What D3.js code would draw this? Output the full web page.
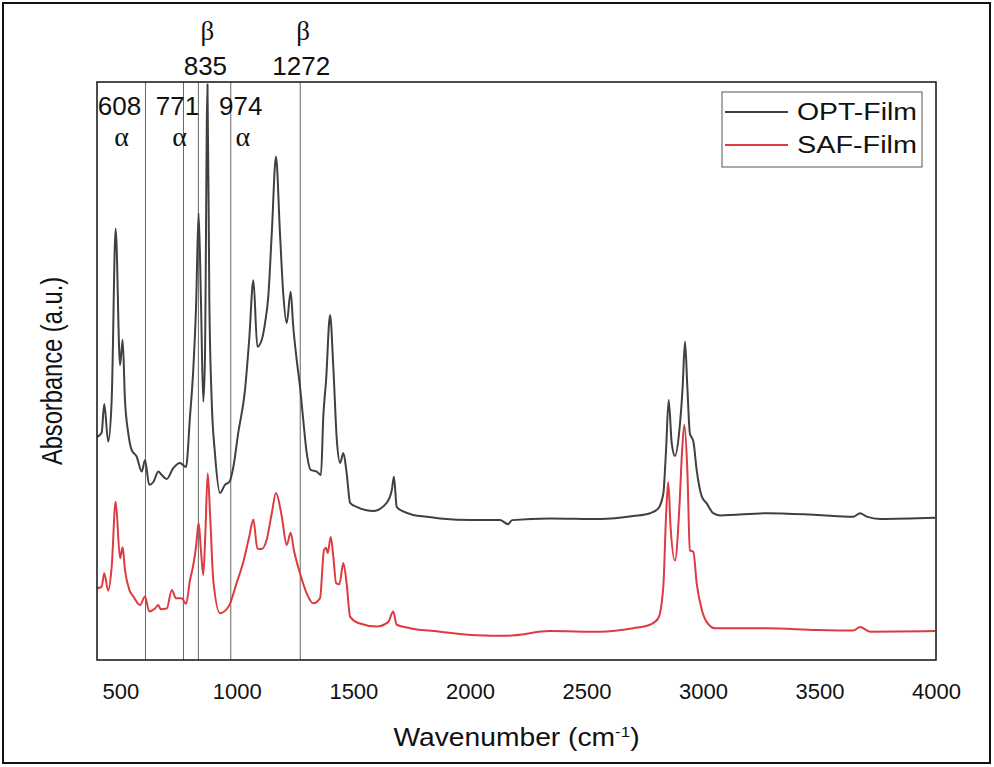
<!DOCTYPE html>
<html>
<head>
<meta charset="utf-8">
<script src="https://cdn.jsdelivr.net/npm/d3@7"></script>
<style>
  body { margin: 0; background: #fff; }
  text { font-family: "Liberation Sans", Arial, sans-serif; fill: #111; }
  .greek { font-family: "Liberation Serif", "DejaVu Serif", serif; }
</style>
</head>
<body>
<script>
const width = 994;
const height = 767;

const optWavenumber = [401,420,431,448,463,480,499,510,520,534,549,570,592,606,624,642,663,678,699,727,756,782,799,813,825,836,846,856,863,874,882,892,906,928,949,968,985,1006,1035,1053,1071,1088,1107,1121,1135,1150,1168,1185,1199,1214,1231,1242,1257,1271,1285,1300,1317,1343,1361,1371,1383,1400,1414,1429,1443,1457,1471,1486,1514,1586,1643,1665,1674,1686,1714,1757,1815,1872,2013,2129,2164,2181,2344,2558,2701,2773,2808,2830,2841,2853,2866,2880,2899,2913,2923,2933,2944,2959,2973,2995,3016,3044,3073,3273,3488,3645,3674,3703,3760,3996];
// absorbance (a.u.) of OPT-Film
const optAbsorbance = [38.6,39.3,44.3,37.8,45.0,74.6,51.0,55.4,45.0,39.3,36.3,35.2,32.6,34.6,30.3,30.8,32.6,32.0,31.3,33.2,34.1,33.4,42.1,50.2,61.1,77.3,62.3,44.7,51.9,99.6,62.3,45.0,35.8,28.9,30.3,30.8,33.4,39.3,46.7,55.4,65.7,54.2,55.4,58.3,62.9,73.9,87.1,73.9,63.5,58.3,63.7,57.7,51.9,47.3,41.5,35.8,32.9,32.6,32.0,42.1,48.4,59.7,50.7,38.1,34.1,35.8,32.4,27.2,26.5,25.8,27.2,29.4,31.7,26.5,25.7,25.1,24.8,24.5,24.2,24.2,23.5,24.2,24.5,24.4,24.9,25.4,26.2,28.8,35.8,45.0,37.5,35.3,39.8,47.3,55.1,47.3,39.2,37.8,32.9,28.3,27.1,25.4,25.0,25.4,25.1,24.8,25.4,24.8,24.4,24.6];

const safWavenumber = [401,420,431,448,463,480,499,510,520,539,556,585,606,624,649,663,673,699,721,739,763,782,799,813,825,836,846,856,865,875,885,899,928,949,968,999,1028,1053,1071,1088,1107,1128,1150,1168,1193,1214,1231,1245,1271,1300,1328,1357,1374,1383,1390,1403,1414,1426,1440,1457,1471,1486,1521,1600,1650,1671,1686,1743,1872,2029,2158,2344,2558,2701,2773,2808,2830,2841,2851,2861,2880,2899,2910,2920,2933,2944,2959,2973,2995,3016,3052,3273,3488,3645,3674,3717,3996];
// absorbance (a.u.) of SAF-Film
const safAbsorbance = [12.4,12.7,15.0,12.0,16.1,27.4,17.6,19.5,15.6,12.1,11.0,9.5,11.0,8.4,8.9,9.5,8.8,8.9,12.1,10.7,10.7,9.7,13.8,16.4,19.6,23.7,19.0,14.7,21.9,32.3,25.4,13.8,8.1,8.5,9.5,13.3,17.0,21.3,24.3,19.3,19.2,20.8,25.4,28.9,24.8,19.9,22.0,19.0,15.0,11.5,9.8,10.7,19.0,19.4,18.5,21.3,17.9,13.3,13.1,16.8,13.3,7.5,6.4,5.8,6.6,8.4,6.1,5.5,4.9,4.3,4.2,5.0,4.9,5.5,6.1,7.2,12.7,24.2,30.8,23.1,17.2,26.5,35.8,40.7,32.9,19.0,18.7,13.3,8.7,6.6,5.5,5.5,5.2,5.1,5.7,4.9,5.0];

// marked bands
const bandPositions = [608, 771, 835, 974, 1272];
const bandLabels = ["608", "771", "835", "974", "1272"];
const bandPhase = ["α", "α", "β", "α", "β"];

const xTicks = [500, 1000, 1500, 2000, 2500, 3000, 3500, 4000];
const seriesNames = ["OPT-Film", "SAF-Film"];
const seriesColors = ["#404040", "#de3a40"];

const plotLeft = 97, plotRight = 936, plotTop = 82, plotBottom = 660;

const svg = d3.select("body").append("svg")
  .attr("width", width)
  .attr("height", height);

// outer frame of the figure
svg.append("rect")
  .attr("x", 3).attr("y", 3)
  .attr("width", 987).attr("height", 760)
  .attr("fill", "none")
  .attr("stroke", "#111")
  .attr("stroke-width", 2);

const x = d3.scaleLinear().domain([400, 4000]).range([plotLeft, plotRight]);
const y = d3.scaleLinear().domain([0, 100]).range([plotBottom, plotTop]);

// band marker lines
svg.selectAll(".band")
  .data(bandPositions)
  .enter().append("line")
  .attr("class", "band")
  .attr("x1", d => x(d)).attr("x2", d => x(d))
  .attr("y1", plotTop).attr("y2", plotBottom)
  .attr("stroke", "#666")
  .attr("stroke-width", 1);

const line = d3.line()
  .curve(d3.curveMonotoneX)
  .x(d => x(d[0]))
  .y(d => y(d[1]));

const opt = d3.zip(optWavenumber, optAbsorbance);
const saf = d3.zip(safWavenumber, safAbsorbance);

svg.append("path")
  .datum(opt)
  .attr("fill", "none")
  .attr("stroke", seriesColors[0])
  .attr("stroke-width", 2)
  .attr("stroke-linejoin", "round")
  .attr("d", line);

svg.append("path")
  .datum(saf)
  .attr("fill", "none")
  .attr("stroke", seriesColors[1])
  .attr("stroke-width", 2)
  .attr("stroke-linejoin", "round")
  .attr("d", line);

// plot frame
svg.append("rect")
  .attr("x", plotLeft).attr("y", plotTop)
  .attr("width", plotRight - plotLeft).attr("height", plotBottom - plotTop)
  .attr("fill", "none")
  .attr("stroke", "#111")
  .attr("stroke-width", 1.5);

// x axis, labels only
const xAxis = svg.append("g")
  .attr("transform", "translate(0," + plotBottom + ")")
  .call(d3.axisBottom(x).tickValues(xTicks).tickFormat(d3.format("d")).tickSize(0).tickPadding(23));
xAxis.select(".domain").remove();
xAxis.selectAll("text")
  .style("font-family", "Liberation Sans, Arial, sans-serif")
  .style("font-size", "22px")
  .attr("fill", "#111");

// band labels: alpha bands inside the frame, beta bands above it
const labelShift = [-26, -6, 7, 10, 1];
bandPositions.forEach(function(b, i) {
  const lx = x(b) + labelShift[i];
  if (bandPhase[i] === "β") {
    svg.append("text")
      .attr("x", lx).attr("y", 75)
      .attr("text-anchor", "middle")
      .style("font-size", "26px")
      .text(bandLabels[i]);
    svg.append("text")
      .attr("class", "greek")
      .attr("x", lx + 2).attr("y", 40)
      .attr("text-anchor", "middle")
      .style("font-size", "27px")
      .text(bandPhase[i]);
  } else {
    svg.append("text")
      .attr("x", lx).attr("y", 115)
      .attr("text-anchor", "middle")
      .style("font-size", "26px")
      .text(bandLabels[i]);
    svg.append("text")
      .attr("class", "greek")
      .attr("x", lx + 2).attr("y", 146)
      .attr("text-anchor", "middle")
      .style("font-size", "28px")
      .text(bandPhase[i]);
  }
});

// axis titles
const xTitle = svg.append("text")
  .attr("transform", "translate(" + ((plotLeft + plotRight) / 2) + ",746) scale(1.13,1)")
  .attr("text-anchor", "middle")
  .style("font-size", "25px");
xTitle.append("tspan").text("Wavenumber (cm");
xTitle.append("tspan").attr("dy", -9).style("font-size", "15px").text("-1");
xTitle.append("tspan").attr("dy", 9).text(")");

svg.append("text")
  .attr("transform", "translate(62," + ((plotTop + plotBottom) / 2) + ") rotate(-90) scale(1.03,1.25)")
  .attr("text-anchor", "middle")
  .style("font-size", "23px")
  .text("Absorbance (a.u.)");

// legend
const legend = svg.append("g");
legend.append("rect")
  .attr("x", 722).attr("y", 92)
  .attr("width", 200).attr("height", 75)
  .attr("fill", "#fff")
  .attr("stroke", "#555")
  .attr("stroke-width", 1);

seriesNames.forEach(function(name, i) {
  const ly = 112 + i * 33;
  legend.append("line")
    .attr("x1", 725).attr("x2", 788)
    .attr("y1", ly).attr("y2", ly)
    .attr("stroke", seriesColors[i])
    .attr("stroke-width", 2);
  legend.append("text")
    .attr("x", 797).attr("y", ly + 8)
    .attr("textLength", 120)
    .attr("lengthAdjust", "spacingAndGlyphs")
    .style("font-size", "23px")
    .text(name);
});
</script>
</body>
</html>
